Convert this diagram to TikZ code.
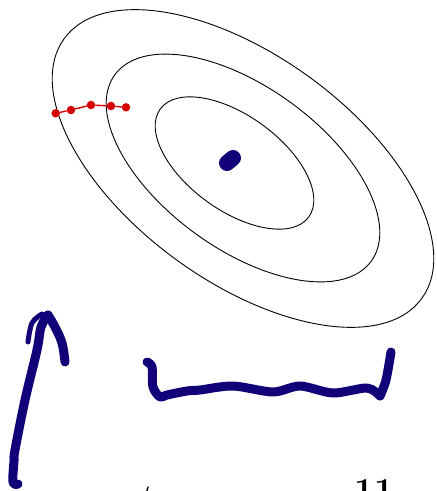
\documentclass[tikz,border=0pt]{standalone}
\usetikzlibrary{positioning}
\definecolor{inkblue}{RGB}{17,0,119}
\definecolor{stepred}{RGB}{212,0,0}
\begin{document}
\begin{tikzpicture}[
    x=1pt, y=1pt,
    contour/.style ={draw=black, line width=0.9pt},
    ink/.style     ={draw=inkblue, line width=9pt, line cap=round, line join=round},
    dot/.style     ={circle, fill=stepred, inner sep=0pt, minimum size=8.5pt},
    stepline/.style={draw=stepred, line width=1.4pt},
    label/.style   ={inner sep=0pt, anchor=base, font=\fontsize{35}{40}\selectfont},
]
\useasboundingbox (0,0) rectangle (437,491);

% ---- Contours ----
\draw[contour, rotate around={-36:(243,322.5)}] (243,322.5) ellipse (221 and 113);
\draw[contour, rotate around={-36:(243,323)}]   (243,323)   ellipse (158.5 and 81);
\draw[contour, rotate around={-36:(234.5,328)}] (234.5,328) ellipse (91.8 and 47.3);

% ---- Minimum ----
\coordinate (m1) at (227,328);
\coordinate (m2) at (233,333);
\draw[ink, line width=16pt] (m1) -- (m2);

% ---- Descent steps ----
\foreach \n/\x/\y in {s1/55.7/377.7, s2/71/381, s3/91/386, s4/111/385, s5/126/383.7} {
   \node[dot] (\n) at (\x,\y) {};
}
\draw[stepline] (s1) -- (s2) -- (s3) -- (s4) -- (s5);

% ---- Hand-drawn strokes ----
\draw[ink] plot[smooth, tension=0.6] coordinates
   {(18,7) (13,9) (14,30) (15,41) (25,91) (37,141) (41,164) (48,176)};
\draw[ink] plot[smooth, tension=0.6] coordinates
   {(48,176) (55,164) (62,148) (65,129)};
\draw[ink, line width=5pt] plot[smooth, tension=0.6] coordinates
   {(42,177) (32,168) (28,149)};
\draw[ink] plot[smooth, tension=0.5] coordinates
   {(147,129) (152,124) (153,104) (160,94) (167,96) (187,100) (200,101) (233,105)
    (273,99) (300,105) (333,98) (367,103) (380,95)};
\draw[ink] plot[smooth, tension=0.5] coordinates
   {(380,95) (386,111) (391,139)};

% ---- Cut-off labels ----
\node[label] (t) at (147,-12) {$t$};
\node[label] (n) at (374,-11.5) {\bfseries 11};

\end{tikzpicture}
\end{document}
